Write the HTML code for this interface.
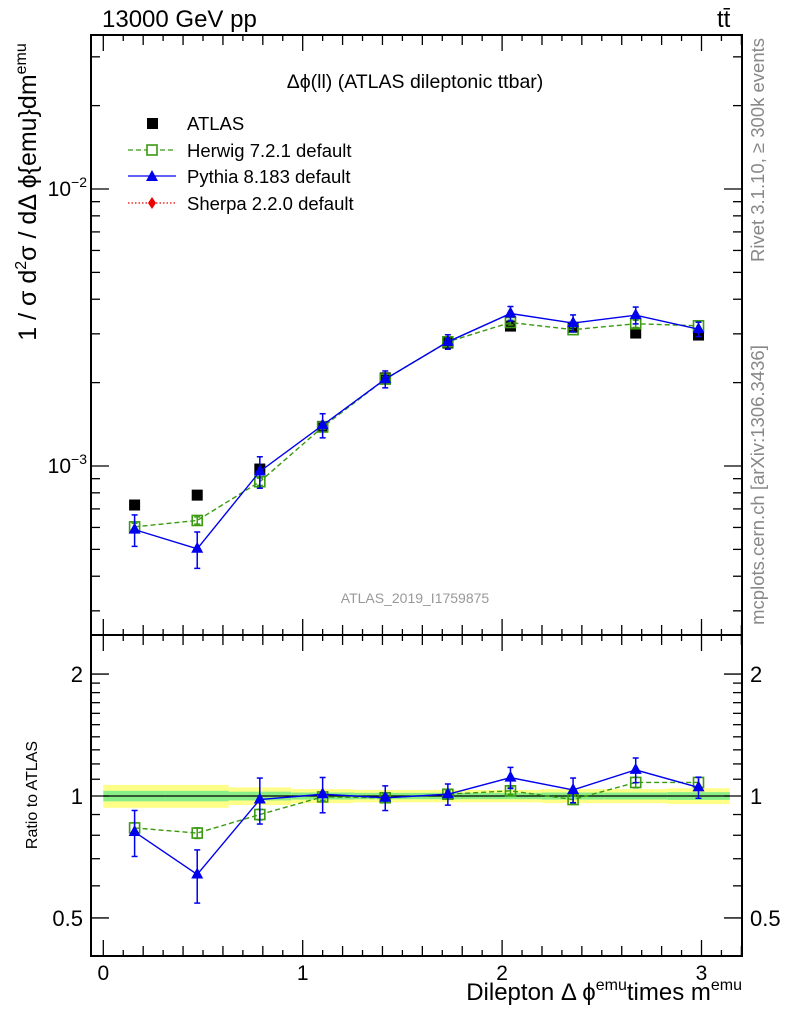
<!DOCTYPE html>
<html><head><meta charset="utf-8"><style>
body{margin:0;background:#fff}
svg{display:block;font-family:"Liberation Sans",sans-serif}
</style></head><body>
<svg id="c" width="786" height="1024" viewBox="0 0 786 1024" xmlns="http://www.w3.org/2000/svg">
<text x="102" y="27" font-size="24">13000 GeV pp</text>
<text x="717" y="27" font-size="24">tt̄</text>
<text x="415" y="88" font-size="19.5" text-anchor="middle">Δϕ(ll) (ATLAS dileptonic ttbar)</text>
<text x="415" y="603" font-size="14" fill="#999" text-anchor="middle">ATLAS_2019_I1759875</text>
<text transform="translate(764,150) rotate(-90)" font-size="18.5" fill="#888" text-anchor="middle">Rivet 3.1.10, ≥ 300k events</text>
<text transform="translate(764,485) rotate(-90)" font-size="18.5" fill="#888" text-anchor="middle">mcplots.cern.ch [arXiv:1306.3436]</text>
<text transform="translate(36,192) rotate(-90)" font-size="25" text-anchor="middle">1 / σ  d<tspan font-size="16" dy="-10">2</tspan><tspan dy="10">σ / dΔ ϕ{emu}dm</tspan><tspan font-size="16" dy="-10">emu</tspan></text>
<text transform="translate(37,795) rotate(-90)" font-size="16" text-anchor="middle">Ratio to ATLAS</text>
<text x="742" y="1000" font-size="24" text-anchor="end">Dilepton Δ ϕ<tspan font-size="16" dy="-10">emu</tspan><tspan dy="10">times m</tspan><tspan font-size="16" dy="-10">emu</tspan></text>
<g>
<rect x="147" y="118" width="11" height="11" fill="#000"/>
<text x="187" y="130" font-size="18.5">ATLAS</text>
<line x1="128" y1="150" x2="176" y2="150" stroke="#3a9a10" stroke-width="1.3" stroke-dasharray="5,3"/>
<rect x="147" y="145" width="10" height="10" fill="#fff" stroke="#3a9a10" stroke-width="1.6"/>
<text x="187" y="157" font-size="18.5">Herwig 7.2.1 default</text>
<line x1="128" y1="176" x2="176" y2="176" stroke="#0000ee" stroke-width="1.3"/>
<path d="M152,170 L158,181 L146,181Z" fill="#0000ee"/>
<text x="187" y="183" font-size="18.5">Pythia 8.183 default</text>
<line x1="128" y1="203" x2="176" y2="203" stroke="#ee0000" stroke-width="1.3" stroke-dasharray="1.5,2"/>
<path d="M152,197 L156,203 L152,209 L148,203Z" fill="#ee0000"/>
<text x="187" y="210" font-size="18.5">Sherpa 2.2.0 default</text>
</g>
<g id="g"></g>
</svg>
<script>
const binCenters=[0.157,0.471,0.785,1.100,1.414,1.728,2.042,2.356,2.670,2.985];
const atlasVals=[7.23e-4,7.85e-4,9.75e-4,1.39e-3,2.08e-3,2.78e-3,3.2e-3,3.17e-3,3.02e-3,2.97e-3];
const herwigRatio=[0.834,0.81,0.90,0.995,0.99,1.01,1.03,0.98,1.08,1.08];
const herwigErr=[0.03,0.03,0.03,0.02,0.02,0.02,0.02,0.02,0.03,0.03];
const pythiaRatio=[0.815,0.64,0.98,1.01,0.99,1.01,1.11,1.035,1.16,1.05];
const pythiaErr=[0.13,0.15,0.13,0.1,0.07,0.06,0.06,0.07,0.07,0.06];
const bandYellow=[0.065,0.065,0.05,0.04,0.035,0.035,0.035,0.04,0.04,0.045];
const bandGreen=[0.03,0.03,0.025,0.02,0.018,0.018,0.018,0.02,0.02,0.022];
const xTicks=[0,1,2,3];
const ratioTicks=[0.5,1,2];

const NS='http://www.w3.org/2000/svg';
const g=document.getElementById('g');
const L=91,R=742,T=35,M=635,B=956;
const X=v=>103.3+199.4*v;
const Y=v=>189-277*(Math.log10(v)+2);
const YR=v=>796-405*Math.log10(v);
const binW=Math.PI/10;
function el(t,a,p){const e=document.createElementNS(NS,t);for(const k in a)e.setAttribute(k,a[k]);(p||g).appendChild(e);return e;}

for(let i=0;i<binCenters.length;i++){
  const x0=X(binCenters[i]-binW/2),x1=X(binCenters[i]+binW/2);
  const by=el('rect',{x:x0,y:YR(1+bandYellow[i]),width:x1-x0,height:YR(1-bandYellow[i])-YR(1+bandYellow[i]),fill:'#ffff88'});
  
  
  const bg=el('rect',{x:x0,y:YR(1+bandGreen[i]),width:x1-x0,height:YR(1-bandGreen[i])-YR(1+bandGreen[i]),fill:'#88ee88'});
  
  
}
el('line',{x1:X(0),x2:X(Math.PI),y1:YR(1),y2:YR(1),stroke:'#000','stroke-width':1.3});

el('rect',{x:L,y:T,width:R-L,height:M-T,fill:'none',stroke:'#000','stroke-width':2});
el('rect',{x:L,y:M,width:R-L,height:B-M,fill:'none',stroke:'#000','stroke-width':2});

for(let k=0;k<=32;k++){const v=k/10,x=X(v);if(x>R)break;
  const len=k%10==0?16:(k%2==0?10:6);
  [[T,1],[M,-1],[M,1],[B,-1]].forEach(([y,d])=>el('line',{x1:x,x2:x,y1:y,y2:y+d*len,stroke:'#000','stroke-width':1.3}));}
xTicks.forEach(v=>{const t=el('text',{x:X(v),y:980,'font-size':21,'text-anchor':'middle'});t.textContent=v;
  
  });

for(let d=-4;d<=-1;d++)for(let m=1;m<=9;m++){const v=m*Math.pow(10,d),y=Y(v);if(y<T||y>M)continue;
  const len=m==1?18:9;
  el('line',{x1:L,x2:L+len,y1:y,y2:y,stroke:'#000','stroke-width':1.3});
  el('line',{x1:R,x2:R-len,y1:y,y2:y,stroke:'#000','stroke-width':1.3});
  if(m==1){const t=el('text',{x:L-4,y:y+7,'font-size':21,'text-anchor':'end'});
    t.innerHTML='10<tspan font-size="14" dy="-9">−'+(-d)+'</tspan>';
    
    }}
for(let k=4;k<=25;k++){const v=k/10;if(v>2&&k%5)continue;const y=YR(v);if(y<M||y>B)continue;
  const len=(v==0.5||v==1||v==2)?18:9;
  el('line',{x1:L,x2:L+len,y1:y,y2:y,stroke:'#000','stroke-width':1.3});
  el('line',{x1:R,x2:R-len,y1:y,y2:y,stroke:'#000','stroke-width':1.3});}
ratioTicks.forEach(v=>{[[L-8,'end'],[R+8,'start']].forEach(([x,a])=>{const t=el('text',{x:x,y:YR(v)+8,'font-size':22,'text-anchor':a});t.textContent=v;
  
  });});

function series(vals,errs,color,dash,marker,yf,name){
  let d='';vals.forEach((v,i)=>{d+=(i?'L':'M')+X(binCenters[i])+','+yf(v);});
  const p=el('path',{d:d,fill:'none',stroke:color,'stroke-width':1.4,'stroke-dasharray':dash});
  
  
  vals.forEach((v,i)=>{const x=X(binCenters[i]),y=yf(v),y1=yf(v*(1+errs[i])),y2=yf(v*(1-errs[i]));
    el('line',{x1:x,x2:x,y1:y1,y2:y2,stroke:color,'stroke-width':1.5});
    el('line',{x1:x-3,x2:x+3,y1:y1,y2:y1,stroke:color,'stroke-width':1.5});
    el('line',{x1:x-3,x2:x+3,y1:y2,y2:y2,stroke:color,'stroke-width':1.5});
    let m;
    if(marker=='sq')m=el('rect',{x:x-5,y:y-5,width:10,height:10,fill:'none',stroke:color,'stroke-width':1.6});
    else m=el('path',{d:`M${x},${y-7}L${x+6},${y+4}L${x-6},${y+4}Z`,fill:color});
    
    });
}
atlasVals.forEach((v,i)=>{const r=el('rect',{x:X(binCenters[i])-5.5,y:Y(v)-5.5,width:11,height:11,fill:'#000'});
  
  });
series(atlasVals.map((v,i)=>v*herwigRatio[i]),herwigErr,'#3a9a10','5,3','sq',Y,'herwig');
series(atlasVals.map((v,i)=>v*pythiaRatio[i]),pythiaErr,'#0000ee','none','tri',Y,'pythia');
series(herwigRatio,herwigErr,'#3a9a10','5,3','sq',YR,'herwig-ratio');
series(pythiaRatio,pythiaErr,'#0000ee','none','tri',YR,'pythia-ratio');
</script>
</body></html>
